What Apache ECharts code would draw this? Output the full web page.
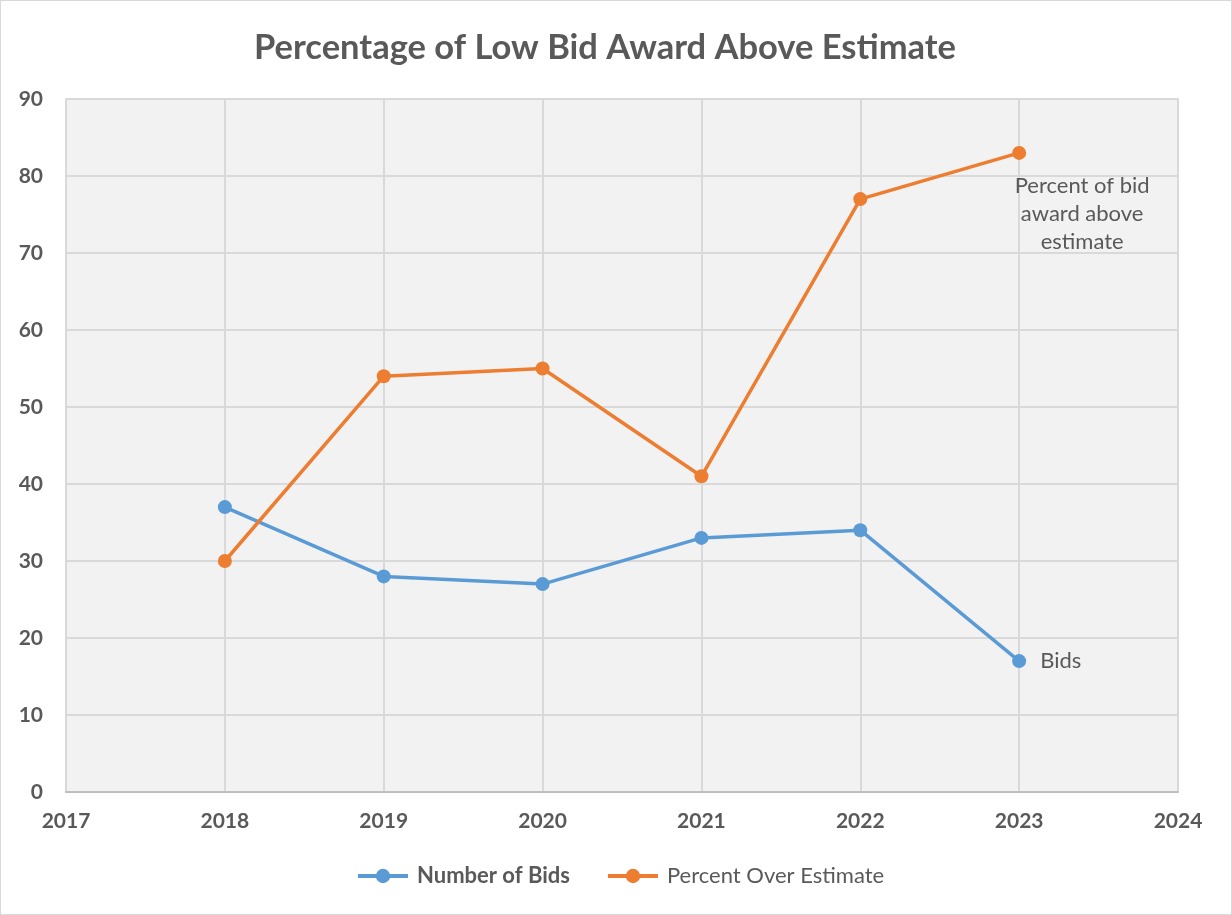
<!DOCTYPE html>
<html>
<head>
    <meta charset="UTF-8">
    <title>Percentage of Low Bid Award Above Estimate</title>
    <style type="text/css">
        *{
            margin: 0;padding: 0;
        }
        #main{
            width: 1232px;
            height: 915px;
            box-sizing: border-box;
            border: 1px solid #d9d9d9;
        }
    </style>
    <script src="https://cdn.jsdelivr.net/npm/echarts@6/dist/echarts.min.js" type="text/javascript" charset="utf-8"></script>
</head>
<body>
<div id="main"></div>
<script type="text/javascript">
    // data
    var years = [2018, 2019, 2020, 2021, 2022, 2023];
    var numberOfBids = [37, 28, 27, 33, 34, 17];
    var percentOver = [30, 54, 55, 41, 77, 83];

    var font = 'Lato, "Open Sans", sans-serif';
    var grey = '#595959';

    function pairs(vals, lastLabel) {
        return vals.map(function (v, i) {
            var item = {value: [years[i], v]};
            if (i === vals.length - 1) item.label = lastLabel;
            return item;
        });
    }

    var myChart = echarts.init(document.getElementById('main'));

    var option = {
        title: {
            text: 'Percentage of Low Bid Award Above Estimate',
            left: 599,
            top: 24,
            textAlign: 'center',
            textStyle: {fontFamily: font, fontSize: 34.5, fontWeight: 'bold', color: grey}
        },
        color: ['#5b9bd5', '#ed7d31'],
        legend: {
            left: 350,
            top: 859,
            itemWidth: 50,
            itemHeight: 18,
            itemGap: 36,
            lineStyle: {width: 4},
            textStyle: {fontFamily: font, fontSize: 22, color: grey, padding: [0, 0, 0, 4]},
            data: [
                {name: 'Number of Bids', textStyle: {fontWeight: 'bold'}},
                {name: 'Percent Over Estimate'}
            ]
        },
        grid: {
            left: 65,
            right: 53,
            top: 98,
            bottom: 122,
            show: true,
            backgroundColor: '#f2f2f2',
            borderColor: '#d9d9d9',
            borderWidth: 1.5
        },
        xAxis: {
            type: 'value',
            min: 2017,
            max: 2024,
            interval: 1,
            axisLine: {show: true, lineStyle: {color: '#bfbfbf', width: 2}},
            axisTick: {show: false},
            splitLine: {show: true, lineStyle: {color: '#d9d9d9', width: 2}},
            axisLabel: {fontFamily: font, fontSize: 21, fontWeight: 'bold', color: grey, margin: 19,
                formatter: function (v) { return String(v); }}
        },
        yAxis: {
            type: 'value',
            min: 0,
            max: 90,
            interval: 10,
            axisLine: {show: false},
            axisTick: {show: false},
            splitLine: {show: true, lineStyle: {color: '#d9d9d9', width: 2}},
            axisLabel: {fontFamily: font, fontSize: 21, fontWeight: 'bold', color: grey, margin: 23}
        },
        series: [
            {
                name: 'Number of Bids',
                type: 'line',
                symbol: 'circle',
                symbolSize: 14,
                lineStyle: {width: 3.5},
                data: pairs(numberOfBids, {
                    show: true,
                    position: 'right',
                    distance: 14,
                    formatter: 'Bids',
                    fontFamily: font,
                    fontSize: 22,
                    color: grey
                })
            },
            {
                name: 'Percent Over Estimate',
                type: 'line',
                symbol: 'circle',
                symbolSize: 14,
                lineStyle: {width: 3.5},
                data: pairs(percentOver, {
                    show: true,
                    position: 'bottom',
                    distance: 12,
                    offset: [63, 0],
                    align: 'center',
                    lineHeight: 28,
                    formatter: 'Percent of bid\naward above\nestimate',
                    fontFamily: font,
                    fontSize: 22,
                    color: grey
                })
            }
        ]
    };
    myChart.setOption(option);
</script>
</body>
</html>
